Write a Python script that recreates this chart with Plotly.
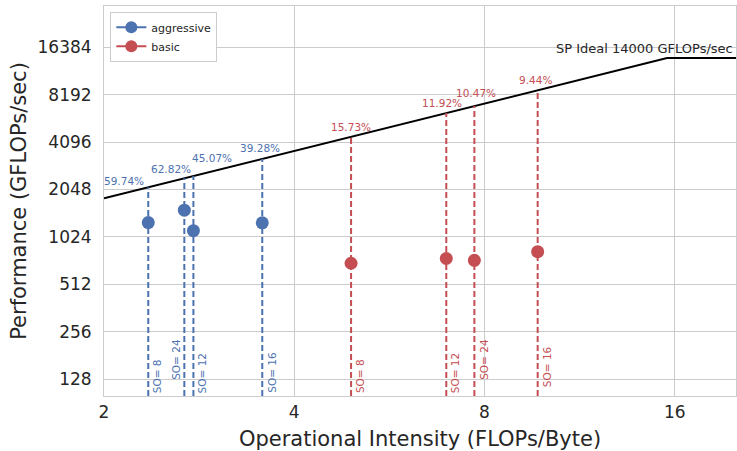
import numpy as np
import plotly.graph_objects as go

# ---- data ----
peak_gflops = 14000
bandwidth_gbs = 900

agg_so = ["SO= 8", "SO= 24", "SO= 12", "SO= 16"]
agg_oi = [2.35, 2.68, 2.77, 3.56]
agg_perf = [1264, 1515, 1123, 1258]
agg_pct = ["59.74%", "62.82%", "45.07%", "39.28%"]

bas_so = ["SO= 8", "SO= 12", "SO= 24", "SO= 16"]
bas_oi = [4.92, 6.96, 7.71, 9.71]
bas_perf = [697, 747, 727, 825]
bas_pct = ["15.73%", "11.92%", "10.47%", "9.44%"]

x_ticks = [2, 4, 8, 16]
y_ticks = [128, 256, 512, 1024, 2048, 4096, 8192, 16384]

# ---- layout helpers (positions / styles) ----
XMIN, XMAX = 2, 20
YMIN, YMAX = 100, 30000
BLUE = "#4C72B0"
RED = "#C44E52"
FONT = "DejaVu Sans"

agg_pct_shift = [(-24, 6), (-13, 9), (19, 18), (-2, 11)]
bas_pct_shift = [(0, 10), (-4, 10), (2, 13), (-2, 10)]
agg_so_place = [("left", 0), ("right", 13), ("left", 0), ("left", 0)]
bas_so_place = [("left", 0), ("left", 0), ("left", 13), ("left", 6)]


def roof(x):
    return min(peak_gflops, bandwidth_gbs * x)


ridge = peak_gflops / bandwidth_gbs

fig = go.Figure()

# roofline
fig.add_trace(go.Scatter(
    x=[XMIN, ridge, XMAX], y=[roof(XMIN), peak_gflops, peak_gflops],
    mode="lines", line=dict(color="black", width=2), showlegend=False,
    hoverinfo="skip"))


def add_series(name, color, oi, perf, pct, so, pct_shift, so_place):
    xs, ys = [], []
    for x in oi:
        xs += [x, x, None]
        ys += [YMIN, roof(x), None]
    fig.add_trace(go.Scatter(x=xs, y=ys, mode="lines",
                             line=dict(color=color, width=2, dash="6px,3px"),
                             showlegend=False, hoverinfo="skip"))
    fig.add_trace(go.Scatter(x=oi, y=perf, mode="markers",
                             marker=dict(color=color, size=13),
                             showlegend=False, name=name))
    fig.add_trace(go.Scatter(x=[None], y=[None], mode="lines+markers", name=name,
                             line=dict(color=color, width=2),
                             marker=dict(color=color, size=12)))
    for x, t, (dx, dy) in zip(oi, pct, pct_shift):
        fig.add_annotation(x=np.log10(x), y=np.log10(roof(x)), text=t,
                           showarrow=False, xanchor="center", yanchor="middle",
                           xshift=dx, yshift=dy,
                           font=dict(family=FONT, size=10.5, color=color))
    for x, t, (side, dy) in zip(oi, so, so_place):
        fig.add_annotation(x=np.log10(x), y=np.log10(YMIN), text=t,
                           showarrow=False, textangle=-90,
                           xanchor=side, yanchor="bottom",
                           xshift=1 if side == "left" else -1, yshift=1 + dy,
                           font=dict(family=FONT, size=10.5, color=color))


add_series("aggressive", BLUE, agg_oi, agg_perf, agg_pct, agg_so,
           agg_pct_shift, agg_so_place)
add_series("basic", RED, bas_oi, bas_perf, bas_pct, bas_so,
           bas_pct_shift, bas_so_place)

fig.add_annotation(x=np.log10(XMAX), y=np.log10(peak_gflops),
                   text=f"SP Ideal {peak_gflops} GFLOPs/sec", showarrow=False,
                   xanchor="right", yanchor="bottom", xshift=-1, yshift=0,
                   font=dict(family=FONT, size=13, color="#262626"))

axis_common = dict(type="log", showgrid=True, gridcolor="#cccccc", gridwidth=1,
                   showline=True, linecolor="#cccccc", linewidth=1, mirror=True,
                   zeroline=False, ticks="", automargin=False,
                   tickfont=dict(family=FONT, size=17, color="#262626"))

fig.update_layout(
    width=737, height=451,
    margin=dict(l=104, r=1, t=6, b=55),
    paper_bgcolor="white", plot_bgcolor="white",
    font=dict(family=FONT, color="#262626"),
    xaxis=dict(range=[np.log10(XMIN), np.log10(XMAX)], tickvals=x_ticks,
               ticktext=[str(v) for v in x_ticks], ticklabelstandoff=1,
               title=dict(text="Operational Intensity (FLOPs/Byte)",
                          font=dict(family=FONT, size=21), standoff=10),
               **axis_common),
    yaxis=dict(range=[np.log10(YMIN), np.log10(YMAX)], tickvals=y_ticks,
               ticktext=[str(v) for v in y_ticks], ticklabelstandoff=8,
               title=dict(text="Performance (GFLOPs/sec)",
                          font=dict(family=FONT, size=21), standoff=5),
               **axis_common),
    legend=dict(x=0.01, y=0.985, xanchor="left", yanchor="top",
                bgcolor="white", bordercolor="#cccccc", borderwidth=1,
                font=dict(family=FONT, size=11, color="#262626"),
                itemwidth=30, tracegroupgap=0),
    showlegend=True,
)

fig.write_html("out.html", config={"displayModeBar": False},
               post_script="document.body.style.margin='0';"
                           "document.body.style.overflow='hidden';")
